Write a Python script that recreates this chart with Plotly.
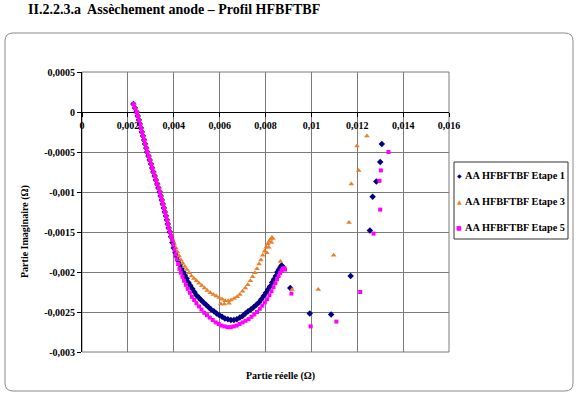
import plotly.graph_objects as go

# ---------------- data ----------------
e1_x = [0.00224, 0.00231, 0.00238, 0.00243, 0.00248, 0.00252, 0.00257, 0.00261, 0.00266, 0.00271,
        0.00275, 0.0028, 0.00284, 0.0029, 0.00295, 0.00301, 0.00306, 0.00311, 0.00317, 0.00322,
        0.00328, 0.00333, 0.00339, 0.00343, 0.00348, 0.00352, 0.00357, 0.00361, 0.00366, 0.0037,
        0.00374, 0.00378, 0.00383,
        0.00388, 0.00394, 0.004, 0.00407, 0.00414, 0.0042, 0.00427, 0.00434, 0.00441, 0.00448,
        0.00456, 0.00464, 0.00472, 0.00481, 0.0049, 0.00499, 0.00509, 0.00519, 0.0053, 0.00541,
        0.00552, 0.00563, 0.00575, 0.00587, 0.00599, 0.00611, 0.00623, 0.00636, 0.00649, 0.00662,
        0.00675, 0.00688, 0.007, 0.00712, 0.00724, 0.00736, 0.00748, 0.0076, 0.00771, 0.00782,
        0.00792, 0.00802, 0.00811, 0.0082, 0.00829, 0.00837, 0.00845, 0.00852, 0.00859, 0.00865,
        0.0087, 0.00874,
        0.00908, 0.00993, 0.01086, 0.01171, 0.01255, 0.01267, 0.01283, 0.013, 0.01307]
e1_y = [0.0001, 0.00005, 0.0, -0.00005, -0.0001, -0.00015, -0.0002, -0.00025, -0.0003, -0.00035,
        -0.0004, -0.00045, -0.0005, -0.00055, -0.0006, -0.00065, -0.0007, -0.00075, -0.0008, -0.00085,
        -0.0009, -0.00095, -0.001, -0.00105, -0.0011, -0.00115, -0.0012, -0.00125, -0.0013, -0.00135,
        -0.0014, -0.00145, -0.0015,
        -0.00156, -0.00163, -0.0017, -0.00176, -0.00181, -0.00186, -0.00191, -0.00196, -0.002, -0.00204,
        -0.00208, -0.00213, -0.00217, -0.00221, -0.00225, -0.00229, -0.00232, -0.00235, -0.00238, -0.00241,
        -0.00244, -0.00247, -0.00249, -0.00252, -0.00254, -0.00256, -0.00258, -0.00259, -0.0026, -0.0026,
        -0.00259, -0.00257, -0.00255, -0.00252, -0.00249, -0.00247, -0.00244, -0.00241, -0.00238, -0.00234,
        -0.0023, -0.00226, -0.00222, -0.00218, -0.00213, -0.00209, -0.00205, -0.002, -0.00197, -0.00194,
        -0.00192, -0.00193,
        -0.0022, -0.00252, -0.00253, -0.00205, -0.00148, -0.00106, -0.00087, -0.000625, -0.0004]

e3_x = [0.00226, 0.00233, 0.0024, 0.00245, 0.0025, 0.00254, 0.00259, 0.00263, 0.00268, 0.00273,
        0.00277, 0.00282, 0.00286, 0.00292, 0.00297, 0.00303, 0.00308, 0.00313, 0.00319, 0.00324,
        0.0033, 0.00335, 0.00341, 0.00345, 0.0035, 0.00354, 0.00359, 0.00363, 0.00368, 0.00372,
        0.00376, 0.0038, 0.00385,
        0.0039, 0.00396, 0.00402, 0.00409, 0.00416, 0.00423, 0.00431, 0.00439, 0.00448, 0.00457,
        0.00467, 0.00477, 0.00488, 0.00499, 0.0051, 0.00522, 0.00534, 0.00546, 0.00559, 0.00572,
        0.00585, 0.00598, 0.00611, 0.00624, 0.00637, 0.0065, 0.00663, 0.00676, 0.00688, 0.007,
        0.00712, 0.00723, 0.00734, 0.00744, 0.00754, 0.00763, 0.00772, 0.0078, 0.00788, 0.00796,
        0.00803, 0.0081, 0.00816, 0.00822, 0.00828, 0.00832,
        0.00605, 0.0062, 0.00641, 0.00814, 0.00826, 0.00806,
        0.00865, 0.00916, 0.0103, 0.01097, 0.01164, 0.01174, 0.01206, 0.01199, 0.01242]
e3_y = [0.0001, 0.00005, 0.0, -0.00005, -0.0001, -0.00015, -0.0002, -0.00025, -0.0003, -0.00035,
        -0.0004, -0.00045, -0.0005, -0.00055, -0.0006, -0.00065, -0.0007, -0.00075, -0.0008, -0.00085,
        -0.0009, -0.00095, -0.001, -0.00105, -0.0011, -0.00115, -0.0012, -0.00125, -0.0013, -0.00135,
        -0.0014, -0.00145, -0.0015,
        -0.00155, -0.0016, -0.00165, -0.0017, -0.00175, -0.0018, -0.00185, -0.00189, -0.00193, -0.00197,
        -0.00201, -0.00205, -0.00208, -0.00211, -0.00214, -0.00217, -0.0022, -0.00223, -0.00226, -0.00228,
        -0.0023, -0.00232, -0.00234, -0.00236, -0.00236, -0.00235, -0.00233, -0.00231, -0.00228, -0.00224,
        -0.0022, -0.00216, -0.00211, -0.00206, -0.00201, -0.00196, -0.0019, -0.00185, -0.00179, -0.00174,
        -0.00169, -0.00165, -0.00162, -0.00159, -0.00157, -0.00158,
        -0.0024, -0.0024, -0.00239, -0.00169, -0.00163, -0.00176,
        -0.00187, -0.00222, -0.00222, -0.00179, -0.00138, -0.0009, -0.00073, -0.000425, -0.0003]

e5_x = [0.00224, 0.00231, 0.00238, 0.00243, 0.00248, 0.00252, 0.00257, 0.00261, 0.00266, 0.00271,
        0.00275, 0.0028, 0.00284, 0.0029, 0.00295, 0.00301, 0.00306, 0.00311, 0.00317, 0.00322,
        0.00328, 0.00333, 0.00339, 0.00343, 0.00348, 0.00352, 0.00357, 0.00361, 0.00366, 0.0037,
        0.00374, 0.00378, 0.00383,
        0.00388, 0.00393, 0.00398, 0.00403, 0.00408, 0.00413, 0.00419, 0.00425, 0.00431, 0.00438,
        0.00445, 0.00453, 0.00461, 0.0047, 0.00479, 0.00489, 0.00499, 0.0051, 0.00521, 0.00533,
        0.00545, 0.00557, 0.0057, 0.00583, 0.00596, 0.00609, 0.00622, 0.00635, 0.00648, 0.00661,
        0.00674, 0.00687, 0.007, 0.00713, 0.00726, 0.00739, 0.00751, 0.00763, 0.00775, 0.00786,
        0.00797, 0.00807, 0.00817, 0.00826, 0.00835, 0.00843, 0.0085, 0.00857, 0.00864, 0.0087,
        0.00876, 0.00882, 0.00885,
        0.00913, 0.00997, 0.01109, 0.01213, 0.01271, 0.013, 0.01297, 0.01303, 0.01336]
e5_y = [0.0001, 0.00005, 0.0, -0.00005, -0.0001, -0.00015, -0.0002, -0.00025, -0.0003, -0.00035,
        -0.0004, -0.00045, -0.0005, -0.00055, -0.0006, -0.00065, -0.0007, -0.00075, -0.0008, -0.00085,
        -0.0009, -0.00095, -0.001, -0.00105, -0.0011, -0.00115, -0.0012, -0.00125, -0.0013, -0.00135,
        -0.0014, -0.00145, -0.0015,
        -0.00155, -0.0016, -0.00166, -0.00172, -0.00178, -0.00184, -0.0019, -0.00196, -0.00201, -0.00206,
        -0.00211, -0.00216, -0.00221, -0.00226, -0.00231, -0.00235, -0.00239, -0.00243, -0.00247, -0.00251,
        -0.00254, -0.00257, -0.0026, -0.00263, -0.00265, -0.00267, -0.00268, -0.00269, -0.00269, -0.00268,
        -0.00267, -0.00265, -0.00263, -0.00261, -0.00259, -0.00256, -0.00253, -0.0025, -0.00246, -0.00242,
        -0.00238, -0.00234, -0.00229, -0.00224, -0.00219, -0.00214, -0.00209, -0.00205, -0.00201, -0.00198,
        -0.00196, -0.00195, -0.00197,
        -0.00227, -0.00268, -0.00262, -0.00225, -0.00152, -0.00122, -0.00086, -0.00073, -0.0005]

series_names = ["AA HFBFTBF Etape 1", "AA HFBFTBF Etape 3", "AA HFBFTBF Etape 5"]
series_colors = ["#000080", "#E8802A", "#FF00FF"]
legend_glyphs = ["◆", "▲", "■"]

x_tickvals = [0, 0.002, 0.004, 0.006, 0.008, 0.01, 0.012, 0.014, 0.016]
x_ticktext = ["0", "0,002", "0,004", "0,006", "0,008", "0,01", "0,012", "0,014", "0,016"]
y_tickvals = [0.0005, 0, -0.0005, -0.001, -0.0015, -0.002, -0.0025, -0.003]
y_ticktext = ["0,0005", "0", "-0,0005", "-0,001", "-0,0015", "-0,002", "-0,0025", "-0,003"]

title_text = "II.2.2.3.a  Assèchement anode – Profil HFBFTBF"
x_title = "Partie réelle (Ω)"
y_title = "Partie Imaginaire (Ω)"

# ---------------- figure ----------------
FONT = "Liberation Serif, Times New Roman, serif"
W, H = 578, 397
L, R, T, B = 82, 129, 72, 45
pw, ph = W - L - R, H - T - B

def px(xp):
    return (xp - L) / pw

def py(yp):
    return (H - B - yp) / ph

fig = go.Figure()
symbols = ["diamond", "triangle-up", "square"]
sizes = [5, 5, 4]
for xs, ys, name, col, sym, sz in zip([e1_x, e3_x, e5_x], [e1_y, e3_y, e5_y], series_names,
                                      series_colors, symbols, sizes):
    fig.add_trace(go.Scatter(x=xs, y=ys, mode="markers", name=name,
                             marker=dict(symbol=sym, size=sz, color=col)))

ypos0 = 0.003 / 0.0035

fig.update_layout(
    width=W, height=H,
    margin=dict(l=L, r=R, t=T, b=B, autoexpand=False),
    paper_bgcolor="white", plot_bgcolor="white",
    font=dict(family=FONT, color="black"),
    showlegend=False,
    xaxis=dict(range=[0, 0.016], tickvals=x_tickvals, ticktext=x_ticktext,
               anchor="free", position=ypos0, automargin=False,
               showgrid=True, gridcolor="#7a7a7a", gridwidth=1,
               zeroline=True, zerolinecolor="black", zerolinewidth=1,
               showline=False, ticks="outside", ticklen=4, tickcolor="black",
               tickfont=dict(family=FONT, size=10, color="black", weight="bold")),
    yaxis=dict(range=[-0.003, 0.0005], tickvals=y_tickvals, ticktext=y_ticktext,
               automargin=False,
               showgrid=True, gridcolor="#7a7a7a", gridwidth=1,
               zeroline=True, zerolinecolor="black", zerolinewidth=1,
               showline=True, linecolor="black", linewidth=1,
               ticks="outside", ticklen=4, tickcolor="black",
               tickfont=dict(family=FONT, size=10, color="black", weight="bold")),
)

# plot area border
fig.add_shape(type="rect", xref="paper", yref="paper", x0=0, x1=1, y0=0, y1=1,
              line=dict(color="#7a7a7a", width=1), layer="below")

# outer rounded frame
x0f, x1f, y0f, y1f = px(5), px(573), py(391), py(33)
rx, ry = 8 / pw, 8 / ph
path = (f"M {x0f+rx},{y1f} L {x1f-rx},{y1f} Q {x1f},{y1f} {x1f},{y1f-ry} "
        f"L {x1f},{y0f+ry} Q {x1f},{y0f} {x1f-rx},{y0f} L {x0f+rx},{y0f} "
        f"Q {x0f},{y0f} {x0f},{y0f+ry} L {x0f},{y1f-ry} Q {x0f},{y1f} {x0f+rx},{y1f} Z")
fig.add_shape(type="path", xref="paper", yref="paper", path=path,
              line=dict(color="#8a8a8a", width=1))

# legend box (drawn manually to match the original compact layout)
fig.add_shape(type="rect", xref="paper", yref="paper", x0=px(454), x1=px(568),
              y0=py(239), y1=py(162), line=dict(color="#333333", width=1),
              fillcolor="white")
for i, (name, col, g) in enumerate(zip(series_names, series_colors, legend_glyphs)):
    yc = 175 + 26 * i
    fig.add_annotation(x=px(459), y=py(yc), xref="paper", yref="paper", text=g,
                       showarrow=False, xanchor="center", yanchor="middle",
                       font=dict(family="DejaVu Sans", size=6, color=col))
    fig.add_annotation(x=px(463), y=py(yc), xref="paper", yref="paper", text=name,
                       showarrow=False, xanchor="left", yanchor="middle",
                       font=dict(family=FONT, size=10.3, color="black", weight="bold"))

# axis titles
fig.add_annotation(x=px(280), y=py(376), xref="paper", yref="paper", text=x_title,
                   showarrow=False, xanchor="center", yanchor="middle",
                   font=dict(family=FONT, size=10, color="black", weight="bold"))
fig.add_annotation(x=px(25), y=py(232), xref="paper", yref="paper", text=y_title,
                   showarrow=False, xanchor="center", yanchor="middle", textangle=-90,
                   font=dict(family=FONT, size=10, color="black", weight="bold"))

# page heading
fig.add_annotation(x=px(26), y=py(0), xref="paper", yref="paper", text=title_text,
                   showarrow=False, xanchor="left", yanchor="top",
                   font=dict(family=FONT, size=14, color="black", weight="bold"))

fig.write_html("out.html")
